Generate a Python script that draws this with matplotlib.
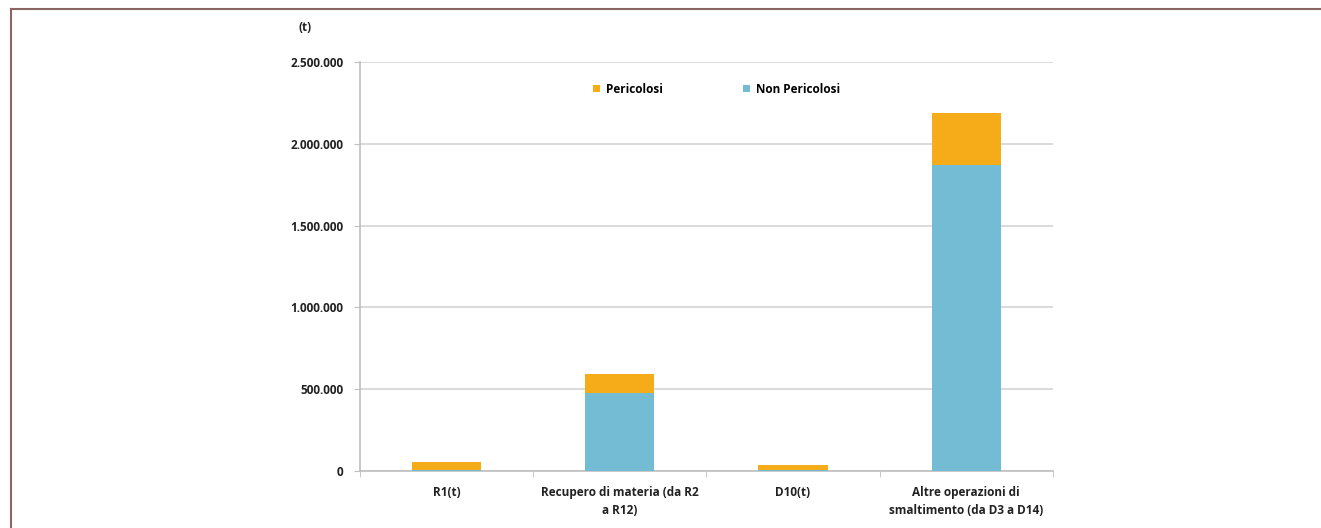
import matplotlib.pyplot as plt
import numpy as np
from matplotlib.lines import Line2D
from matplotlib.ticker import FuncFormatter, FixedLocator

plt.rcParams['font.family'] = ['Open Sans', 'DejaVu Sans']

# dati
categorie = ["R1(t)", "Recupero di materia (da R2\na R12)", "D10(t)",
             "Altre operazioni di\nsmaltimento (da D3 a D14)"]
non_pericolosi = [4000, 477000, 3000, 1873000]
pericolosi = [51000, 117000, 33000, 318000]

col_per = "#f6ab19"
col_non = "#74bcd4"

fig = plt.figure(figsize=(13.21, 5.28), dpi=100)
ax = fig.add_axes([0.2725, 0.108, 0.5245, 0.7745])

x = np.arange(len(categorie))
ax.bar(x, non_pericolosi, width=0.40, color=col_non, label="Non Pericolosi", zorder=3)
ax.bar(x, pericolosi, width=0.40, bottom=non_pericolosi, color=col_per,
       label="Pericolosi", zorder=3)

ax.set_xlim(-0.5, len(categorie) - 0.5)
ax.set_ylim(0, 2500000)
ax.set_yticks(np.arange(0, 2500001, 500000))
ax.yaxis.set_major_formatter(FuncFormatter(lambda v, p: f"{int(v):,}".replace(",", ".")))
ax.grid(axis='y', color="#d4d4d4", linewidth=1.2, zorder=0)

ax.set_xticks(x)
ax.set_xticklabels(categorie, fontsize=8.5, fontweight='bold', color="#222222", linespacing=1.5)
ax.xaxis.set_minor_locator(FixedLocator(np.arange(-0.5, len(categorie), 1)))
ax.tick_params(axis='x', which='major', length=0, pad=11)
ax.tick_params(axis='x', which='minor', length=4, color="#bfbfbf", direction='out')
ax.tick_params(axis='y', length=4, color="#bfbfbf", labelsize=8.5, labelcolor="#222222", pad=8)
for t in ax.get_yticklabels():
    t.set_fontweight('bold')

for s in ['top', 'right']:
    ax.spines[s].set_visible(False)
for s in ['left', 'bottom']:
    ax.spines[s].set_color("#bfbfbf")
    ax.spines[s].set_linewidth(1.2)

h, l = ax.get_legend_handles_labels()
leg = ax.legend(h[::-1], l[::-1], loc='upper center', bbox_to_anchor=(0.515, 0.975), ncol=2,
                frameon=False, fontsize=8.5, handlelength=0.6, handleheight=0.6,
                handletextpad=0.5, columnspacing=6.8)
for t in leg.get_texts():
    t.set_fontweight('bold')

fig.text(0.231, 0.948, "(t)", fontsize=8.5, fontweight='bold', color="#222222", ha='center', va='center')

# cornice
fc = "#8c6464"
fig.add_artist(Line2D([11 / 1321, 1.0], [1 - 9 / 528, 1 - 9 / 528], color=fc, lw=1.5))
fig.add_artist(Line2D([11 / 1321, 11 / 1321], [0, 1 - 9 / 528], color=fc, lw=1.5))

fig.savefig("out.png", dpi=100)
